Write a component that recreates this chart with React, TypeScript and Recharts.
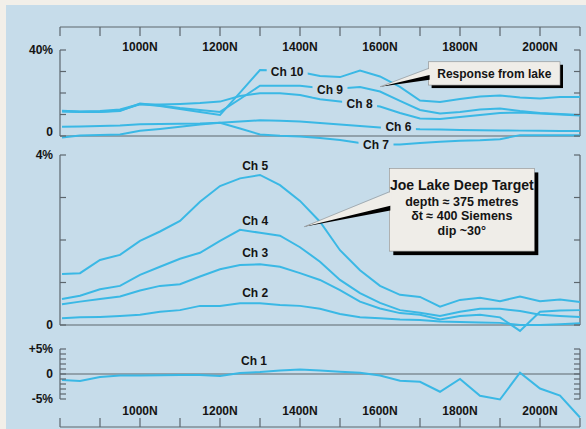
import React from 'react';
import { LineChart, Line, XAxis, YAxis, ReferenceLine, ReferenceDot } from 'recharts';

// survey stations (N) and channel responses
const stations = [805, 850, 900, 950, 1000, 1050, 1100, 1150, 1200, 1250, 1300, 1350, 1400, 1450, 1500, 1550, 1600, 1650, 1700, 1750, 1800, 1850, 1900, 1950, 2000, 2050, 2100];

// late channels, %
const ch10 = [11.8, 11.4, 11.6, 12.3, 14.9, 14.0, 12.6, 11.2, 9.8, 20.2, 30.7, 30.5, 29.8, 27.9, 27.4, 30.4, 27.7, 22.8, 16.5, 15.8, 17.2, 18.4, 18.8, 17.9, 17.4, 18.1, 18.1];
const ch9 = [11.5, 11.2, 11.2, 11.6, 15.1, 14.2, 13.0, 12.1, 11.2, 17.2, 23.4, 23.4, 23.4, 22.3, 22.1, 22.8, 20.7, 16.3, 12.1, 10.5, 11.2, 12.3, 12.8, 11.6, 10.7, 10.2, 9.8];
const ch8 = [11.4, 11.3, 11.3, 11.9, 14.7, 14.7, 14.9, 15.3, 16.0, 18.6, 19.9, 19.9, 19.1, 17.1, 16.0, 14.9, 13.7, 10.7, 8.1, 7.9, 8.8, 9.8, 10.7, 10.9, 10.5, 10.0, 9.5];
const ch7 = [-0.7, 0.2, 0.5, 0.7, 2.4, 3.3, 4.3, 5.3, 6.2, 3.5, 0.7, 0.1, -0.2, -0.9, -1.9, -3.3, -3.9, -4.0, -3.3, -2.7, -2.2, -2.0, -1.5, 0.4, 0.4, 0.4, 0.4];
const ch6 = [4.3, 4.4, 4.7, 4.9, 5.5, 5.6, 5.7, 5.8, 6.2, 6.8, 7.3, 7.1, 6.7, 6.0, 5.3, 4.7, 4.0, 3.5, 3.1, 3.0, 2.8, 2.7, 2.6, 2.5, 2.4, 2.3, 2.3];

// mid channels, %
const ch5 = [1.2, 1.22, 1.53, 1.65, 1.98, 2.2, 2.45, 2.9, 3.27, 3.45, 3.53, 3.29, 2.92, 2.43, 1.76, 1.29, 0.92, 0.71, 0.66, 0.43, 0.59, 0.64, 0.56, 0.67, 0.56, 0.6, 0.54];
const ch4 = [0.61, 0.69, 0.84, 0.92, 1.18, 1.37, 1.56, 1.7, 1.98, 2.24, 2.17, 2.1, 1.83, 1.49, 1.06, 0.75, 0.52, 0.35, 0.29, 0.21, 0.31, 0.38, 0.38, 0.33, 0.24, 0.21, 0.19];
const ch3 = [0.49, 0.55, 0.61, 0.67, 0.81, 0.92, 0.96, 1.14, 1.31, 1.41, 1.43, 1.37, 1.22, 1.06, 0.82, 0.55, 0.39, 0.28, 0.24, 0.13, 0.21, 0.24, 0.18, -0.14, 0.31, 0.34, 0.35];
const ch2 = [0.16, 0.18, 0.19, 0.21, 0.24, 0.31, 0.35, 0.45, 0.45, 0.51, 0.51, 0.47, 0.45, 0.38, 0.26, 0.18, 0.16, 0.13, 0.12, 0.08, 0.07, 0.06, 0.05, 0.0, 0.0, 0.02, 0.04];

// early channel, %
const ch1 = [-1.2, -1.4, -0.6, -0.3, -0.3, -0.25, -0.2, -0.2, -0.4, 0.2, 0.4, 0.7, 0.9, 0.7, 0.45, 0.25, -0.3, -1.35, -1.55, -3.55, -1.0, -4.35, -5.1, 0.26, -2.9, -4.3, -8.7];

const xTicks = [800, 900, 1000, 1100, 1200, 1300, 1400, 1500, 1600, 1700, 1800, 1900, 2000, 2100];
const xLabels = [1000, 1200, 1400, 1600, 1800, 2000];

const topTicks = [0, 10, 20, 30, 40];
const midTicks = [0, 1, 2, 3, 4];
const lowTicks = [-5, -4, -3, -2, -1, 0, 1, 2, 3, 4, 5];
const topTickText: Record<number, string> = { 40: '40%', 0: '0' };
const midTickText: Record<number, string> = { 4: '4%', 0: '0' };
const lowTickText: Record<number, string> = { 5: '+5%', 0: '0', [-5]: '-5%' };

const topLabels = [
  { text: 'Ch 10', n: 1368, v: 29.8 },
  { text: 'Ch 9', n: 1475, v: 21.4 },
  { text: 'Ch 8', n: 1549, v: 15.2 },
  { text: 'Ch 6', n: 1646, v: 4.3 },
  { text: 'Ch 7', n: 1590, v: -4.2 },
];
const midLabels = [
  { text: 'Ch 5', n: 1288, v: 3.76 },
  { text: 'Ch 4', n: 1288, v: 2.45 },
  { text: 'Ch 3', n: 1288, v: 1.69 },
  { text: 'Ch 2', n: 1288, v: 0.76 },
];
const lowLabels = [{ text: 'Ch 1', n: 1285, v: 2.7 }];

const lakeNote = ['Response from lake'];
const targetNote = ['Joe Lake Deep Target', 'depth \u2248 375 metres', '\u03b4t \u2248 400 Siemens', 'dip ~30\u00b0'];

const rows = stations.map((n, i) => ({
  n,
  ch1: ch1[i], ch2: ch2[i], ch3: ch3[i], ch4: ch4[i], ch5: ch5[i],
  ch6: ch6[i], ch7: ch7[i], ch8: ch8[i], ch9: ch9[i], ch10: ch10[i],
}));

const FRAME = '#f2efe9';
const BG = '#c6dcea';
const LINE = '#3ab8e5';
const AXIS = '#5d666d';
const INK = '#141414';
const BOX = '#efede8';
const FONT = '"Liberation Sans", Arial, Helvetica, sans-serif';
const txt = { fontFamily: FONT, fontSize: 12, fontWeight: 700, fill: INK } as const;

// y domain that puts value a at pixel pa and value b at pixel pb, plot spans top..bottom
const fitDomain = (top: number, bottom: number, a: number, pa: number, b: number, pb: number) => {
  const k = (a - b) / (pb - pa);
  return [b - (bottom - pb) * k, a + (pa - top) * k];
};
// panels overlap a little so labels near the seams are not clipped
const topDomain = fitDomain(27, 162, 40, 50, 0, 136);
const midDomain = fitDomain(0, 196, 4, 11, 0, 181);
const lowDomain = fitDomain(0, 87, 5, 9, -5, 59);

const TopTick = ({ x, y, payload }: any) => (
  <g>
    <line x1={x} y1={y} x2={x} y2={y + 9} stroke={AXIS} strokeWidth={1.2} />
    {xLabels.includes(payload.value) && (
      <text x={x} y={y + 24} textAnchor="middle" style={txt}>{payload.value}N</text>
    )}
  </g>
);

const BottomTick = ({ x, y, payload }: any) => (
  <g>
    <line x1={x} y1={y} x2={x} y2={y - 9} stroke={AXIS} strokeWidth={1.2} />
    {xLabels.includes(payload.value) && (
      <text x={x} y={y - 12} textAnchor="middle" style={txt}>{payload.value}N</text>
    )}
  </g>
);

const leftTick = (names: Record<number, string>, zeroLift = 0) => ({ x, y, payload }: any) => (
  <g>
    <line x1={x} y1={y} x2={x + 6} y2={y} stroke={AXIS} strokeWidth={1.2} />
    {names[payload.value] !== undefined && (
      <text x={x - 7} y={y + 4.3 - (payload.value === 0 ? zeroLift : 0)} textAnchor="end" style={txt}>
        {names[payload.value]}
      </text>
    )}
  </g>
);

const RightTick = ({ x, y }: any) => (
  <line x1={x} y1={y} x2={x - 6} y2={y} stroke={AXIS} strokeWidth={1.2} />
);

const chLabel = (text: string, masked: boolean) => ({ cx, cy }: any) => {
  const w = text.length > 4 ? 41 : 35;
  return (
    <g>
      {masked && <rect x={cx - w / 2} y={cy - 6.5} width={w} height={13} fill={BG} />}
      <text x={cx} y={cy + 4.3} textAnchor="middle" style={txt}>{text}</text>
    </g>
  );
};

// speech-bubble callout; anchored at the tip (cx, cy)
const callout = (lines: string[], o: { dx: number; dy: number; w: number; h: number; w0: number; w1: number; sh: number; base: number[]; sizes: number[] }) =>
  ({ cx, cy }: any) => {
    const bx = cx + o.dx;
    const by = cy + o.dy;
    return (
      <g>
        <rect x={bx + o.sh} y={by + o.sh} width={o.w} height={o.h} fill="#000" />
        <rect x={bx} y={by} width={o.w} height={o.h} fill={BOX} stroke="#8c8c8c" strokeWidth={0.6} />
        <polygon points={`${cx},${cy} ${bx + 1},${by + o.w0 + 4} ${bx + 1},${by + o.w1 + 5}`} fill="#000" />
        <polygon points={`${cx},${cy} ${bx + 2},${by + o.w0} ${bx + 2},${by + o.w1}`} fill={BOX} />
        <line x1={cx} y1={cy} x2={bx} y2={by + o.w0} stroke="#8c8c8c" strokeWidth={0.6} />
        {lines.map((s, i) => (
          <text key={s} x={bx + o.w / 2} y={by + o.base[i]} textAnchor="middle" style={{ ...txt, fontSize: o.sizes[i] }}>{s}</text>
        ))}
      </g>
    );
  };

const lineProps = { type: 'linear' as const, stroke: LINE, strokeWidth: 2, dot: false, activeDot: false, isAnimationActive: false };
const axisStroke = { stroke: AXIS, strokeWidth: 1.2 };

const YAxes = ({ domain, ticks, names, zeroLift }: any) => [
  <YAxis key="l" yAxisId="l" type="number" domain={domain} allowDataOverflow ticks={ticks} interval={0} width={60}
    tickSize={0} tickMargin={0} tickLine={false} axisLine={false} tick={leftTick(names, zeroLift)} />,
  <YAxis key="r" yAxisId="r" orientation="right" type="number" domain={domain} allowDataOverflow ticks={ticks} interval={0} width={6}
    tickSize={0} tickMargin={0} tickLine={false} axisLine={false} tick={RightTick} />,
];

const frameLines = (lo: number, hi: number) => [
  <ReferenceLine key="z" yAxisId="l" y={0} {...axisStroke} ifOverflow="visible" />,
  <ReferenceLine key="a" yAxisId="l" segment={[{ x: 800, y: lo }, { x: 800, y: hi }]} {...axisStroke} ifOverflow="visible" />,
  <ReferenceLine key="b" yAxisId="l" segment={[{ x: 2100, y: lo }, { x: 2100, y: hi }]} {...axisStroke} ifOverflow="visible" />,
];

export default function App() {
  const margin = { top: 0, right: 0, bottom: 0, left: 0 };
  return (
    <div style={{ position: 'relative', width: 586, height: 429, background: FRAME, overflow: 'hidden', fontFamily: FONT }}>
      <style>{'body{margin:0}'}</style>
      <div style={{ position: 'absolute', left: 6, top: 5, right: 0, bottom: 0, background: BG }} />

      <div style={{ position: 'absolute', left: 0, top: 0 }}>
        <LineChart width={586} height={162} data={rows} margin={margin}>
          <XAxis dataKey="n" type="number" domain={[800, 2100]} ticks={xTicks} interval={0} orientation="top" height={27}
            tickSize={0} tickMargin={0} tickLine={false} axisLine={axisStroke} tick={TopTick} />
          {YAxes({ domain: topDomain, ticks: topTicks, names: topTickText, zeroLift: 4 })}
          {frameLines(0, 40)}
          {['ch6', 'ch7', 'ch8', 'ch9', 'ch10'].map((k) => (
            <Line key={k} yAxisId="l" dataKey={k} {...lineProps} />
          ))}
          {topLabels.map((l) => (
            <ReferenceDot key={l.text} yAxisId="l" x={l.n} y={l.v} r={0} ifOverflow="visible" shape={chLabel(l.text, true)} />
          ))}
          <ReferenceDot yAxisId="l" x={1600} y={22.9} r={0} ifOverflow="visible"
            shape={callout(lakeNote, { dx: 48.6, dy: -25, w: 131.4, h: 23.3, w0: 6.6, w1: 13, sh: 3, base: [16.3], sizes: [12] })} />
        </LineChart>
      </div>

      <div style={{ position: 'absolute', left: 0, top: 144 }}>
        <LineChart width={586} height={196} data={rows} margin={margin}>
          <XAxis dataKey="n" type="number" domain={[800, 2100]} hide />
          {YAxes({ domain: midDomain, ticks: midTicks, names: midTickText, zeroLift: 0 })}
          {frameLines(0, 4)}
          {['ch2', 'ch3', 'ch4', 'ch5'].map((k) => (
            <Line key={k} yAxisId="l" dataKey={k} {...lineProps} />
          ))}
          {midLabels.map((l) => (
            <ReferenceDot key={l.text} yAxisId="l" x={l.n} y={l.v} r={0} ifOverflow="visible" shape={chLabel(l.text, false)} />
          ))}
          <ReferenceDot yAxisId="l" x={1410} y={2.31} r={0} ifOverflow="visible"
            shape={callout(targetNote, { dx: 85.3, dy: -58.4, w: 145, h: 82.7, w0: 23.4, w1: 37, sh: 4, base: [21.7, 37.2, 51.7, 66.2], sizes: [14, 12.5, 12.5, 12.5] })} />
        </LineChart>
      </div>

      <div style={{ position: 'absolute', left: 0, top: 340 }}>
        <LineChart width={586} height={89} data={rows} margin={margin}>
          <XAxis dataKey="n" type="number" domain={[800, 2100]} ticks={xTicks} interval={0} orientation="bottom" height={2}
            tickSize={0} tickMargin={0} tickLine={false} axisLine={axisStroke} tick={BottomTick} />
          {YAxes({ domain: lowDomain, ticks: lowTicks, names: lowTickText, zeroLift: 0 })}
          {frameLines(-5, 5)}
          <Line yAxisId="l" dataKey="ch1" {...lineProps} />
          {lowLabels.map((l) => (
            <ReferenceDot key={l.text} yAxisId="l" x={l.n} y={l.v} r={0} ifOverflow="visible" shape={chLabel(l.text, false)} />
          ))}
        </LineChart>
      </div>
    </div>
  );
}
